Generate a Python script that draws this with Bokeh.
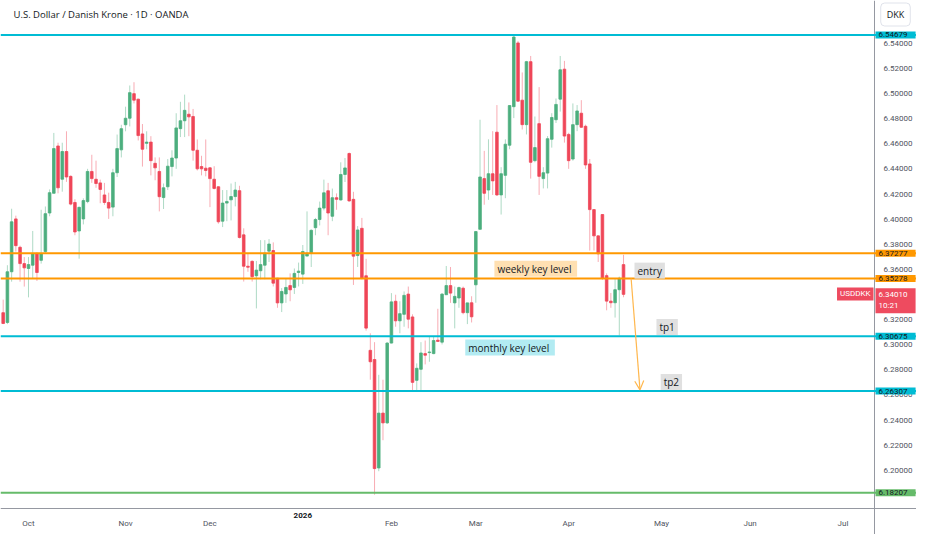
import numpy as np
import pandas as pd
from bokeh.plotting import figure
from bokeh.models import (ColumnDataSource, Span, Label, Arrow, OpenHead,
                          FixedTicker, PrintfTickFormatter, Range1d)
from bokeh.embed import file_html
from bokeh.resources import INLINE

# ---------------- data ----------------
title_text = "U.S. Dollar / Danish Krone \u00b7 1D \u00b7 OANDA"
symbol = "USDDKK"
currency = "DKK"
first_bar = "2025-09-23"
calendar_end = "2026-07-31"
holidays = ["2025-12-25", "2026-01-01"]

opens = [
    6.3255, 6.3177, 6.3581, 6.4002, 6.3776, 6.3646, 6.3607, 6.3633, 6.3724, 6.3672,
    6.3742, 6.4049, 6.4206, 6.4583, 6.4318, 6.4539, 6.4341, 6.4133, 6.3906, 6.4002,
    6.4140, 6.4380, 6.4318, 6.4289, 6.4193, 6.4133, 6.4096, 6.4370, 6.4552, 6.4752,
    6.4804, 6.5000, 6.4956, 6.4679, 6.4604, 6.4614, 6.4445, 6.4380, 6.4172, 6.4258,
    6.4419, 6.4487, 6.4721, 6.4784, 6.4836, 6.4818, 6.4549, 6.4419, 6.4406, 6.4409,
    6.4318, 6.4258, 6.3984, 6.4128, 6.4154, 6.4180, 6.4227, 6.3875, 6.3625, 6.3664,
    6.3549, 6.3589, 6.3633, 6.3745, 6.3750, 6.3529, 6.3333, 6.3404, 6.3471, 6.3456,
    6.3575, 6.3562, 6.3706, 6.3731, 6.3932, 6.3997, 6.4088, 6.4226, 6.4023, 6.4171,
    6.4153, 6.4356, 6.4523, 6.4158, 6.3710, 6.3927, 6.3549, 6.2955, 6.2882, 6.2018,
    6.2455, 6.2377, 6.3013, 6.3346, 6.3190, 6.3242, 6.3403, 6.3221, 6.2716, 6.2804,
    6.2929, 6.2937, 6.2929, 6.3036, 6.3020, 6.3398, 6.3471, 6.3333, 6.3372, 6.3450,
    6.3255, 6.3334, 6.3477, 6.3919, 6.4323, 6.4232, 6.4362, 6.4693, 6.4193, 6.4349,
    6.4589, 6.4896, 6.5404, 6.4948, 6.4753, 6.5255, 6.4466, 6.4761, 6.4323, 6.4367,
    6.4636, 6.4792, 6.4956, 6.5195, 6.4675, 6.4479, 6.4753, 6.4844, 6.4740, 6.4440,
    6.4076, 6.3867, 6.4037, 6.3550, 6.3347, 6.3334, 6.3438, 6.3638,
]
highs = [
    6.3359, 6.3633, 6.4083, 6.4028, 6.3789, 6.3698, 6.3698, 6.3906, 6.3737, 6.4075,
    6.4101, 6.4237, 6.4687, 6.4609, 6.4609, 6.4700, 6.4349, 6.4159, 6.4101, 6.4166,
    6.4401, 6.4513, 6.4466, 6.4315, 6.4289, 6.4211, 6.4401, 6.4674, 6.4752, 6.4896,
    6.5065, 6.5091, 6.4960, 6.4758, 6.4700, 6.4661, 6.4492, 6.4492, 6.4284, 6.4479,
    6.4549, 6.4844, 6.4935, 6.4992, 6.4930, 6.4878, 6.4635, 6.4505, 6.4635, 6.4414,
    6.4422, 6.4262, 6.4232, 6.4232, 6.4284, 6.4297, 6.4266, 6.3927, 6.3724, 6.3672,
    6.3667, 6.3833, 6.3833, 6.3841, 6.3815, 6.3533, 6.3451, 6.3529, 6.3568, 6.3607,
    6.3654, 6.3794, 6.4062, 6.3919, 6.4010, 6.4140, 6.4315, 6.4289, 6.4244, 6.4205,
    6.4453, 6.4487, 6.4531, 6.4218, 6.3945, 6.4010, 6.3684, 6.3091, 6.3020, 6.2760,
    6.2721, 6.3020, 6.3411, 6.3398, 6.3346, 6.3424, 6.3463, 6.3242, 6.2851, 6.3020,
    6.3033, 6.3065, 6.3065, 6.3286, 6.3411, 6.3627, 6.3619, 6.3463, 6.3463, 6.3463,
    6.3333, 6.3386, 6.3906, 6.4792, 6.4544, 6.4636, 6.4701, 6.4909, 6.4414, 6.4636,
    6.4909, 6.5468, 6.5420, 6.5169, 6.5261, 6.5300, 6.4818, 6.5052, 6.4414, 6.4662,
    6.4844, 6.4961, 6.5300, 6.5261, 6.4688, 6.4922, 6.4909, 6.4948, 6.4753, 6.4479,
    6.4080, 6.3870, 6.4040, 6.3568, 6.3412, 6.3529, 6.3542, 6.3716,
]
lows = [
    6.3164, 6.3164, 6.3502, 6.3742, 6.3502, 6.3463, 6.3377, 6.3528, 6.3508, 6.3646,
    6.3724, 6.4023, 6.4206, 6.4206, 6.4219, 6.4297, 6.4110, 6.3872, 6.3685, 6.3958,
    6.4127, 6.4289, 6.4250, 6.4127, 6.4114, 6.4002, 6.4023, 6.4336, 6.4492, 6.4700,
    6.4739, 6.4922, 6.4627, 6.4419, 6.4557, 6.4349, 6.4310, 6.4062, 6.4081, 6.4232,
    6.4341, 6.4401, 6.4654, 6.4654, 6.4661, 6.4466, 6.4388, 6.4349, 6.4341, 6.4096,
    6.4237, 6.3964, 6.3937, 6.3984, 6.3990, 6.4102, 6.3846, 6.3503, 6.3581, 6.3503,
    6.3289, 6.3521, 6.3521, 6.3659, 6.3464, 6.3294, 6.3260, 6.3333, 6.3346, 6.3404,
    6.3464, 6.3484, 6.3706, 6.3619, 6.3872, 6.3950, 6.4070, 6.3872, 6.3984, 6.4075,
    6.4148, 6.4296, 6.4140, 6.3476, 6.3619, 6.3520, 6.3112, 6.2721, 6.1805, 6.1992,
    6.2239, 6.2369, 6.3010, 6.3143, 6.3091, 6.3143, 6.3130, 6.2635, 6.2635, 6.2635,
    6.2843, 6.2864, 6.2924, 6.3026, 6.3002, 6.3398, 6.3333, 6.3130, 6.3294, 6.3242,
    6.3164, 6.3177, 6.3334, 6.3919, 6.4115, 6.4154, 6.4193, 6.4185, 6.4037, 6.4167,
    6.4557, 6.4805, 6.4935, 6.4714, 6.4675, 6.4323, 6.4453, 6.4193, 6.4245, 6.4245,
    6.4570, 6.4766, 6.4857, 6.4610, 6.4401, 6.4466, 6.4701, 6.4727, 6.4401, 6.3750,
    6.3750, 6.3659, 6.3516, 6.3274, 6.3294, 6.3216, 6.3073, 6.3378,
]
closes = [
    6.3169, 6.3581, 6.3979, 6.3789, 6.3646, 6.3612, 6.3638, 6.3724, 6.3575, 6.3724,
    6.4044, 6.4211, 6.4562, 6.4250, 6.4539, 6.4336, 6.4120, 6.3898, 6.4094, 6.4148,
    6.4380, 6.4323, 6.4284, 6.4237, 6.4133, 6.4088, 6.4370, 6.4562, 6.4721, 6.4804,
    6.5008, 6.4948, 6.4666, 6.4557, 6.4614, 6.4466, 6.4409, 6.4179, 6.4250, 6.4422,
    6.4487, 6.4727, 6.4784, 6.4867, 6.4815, 6.4549, 6.4401, 6.4401, 6.4388, 6.4323,
    6.4245, 6.3979, 6.4128, 6.4141, 6.4180, 6.4232, 6.3854, 6.3625, 6.3617, 6.3542,
    6.3594, 6.3638, 6.3729, 6.3802, 6.3490, 6.3333, 6.3424, 6.3456, 6.3437, 6.3568,
    6.3586, 6.3742, 6.3729, 6.3911, 6.3997, 6.4088, 6.4210, 6.4049, 6.4171, 6.4158,
    6.4356, 6.4408, 6.4145, 6.3705, 6.3914, 6.3528, 6.3132, 6.2864, 6.2013, 6.2455,
    6.2377, 6.3013, 6.3341, 6.3190, 6.3247, 6.3393, 6.3203, 6.2700, 6.2812, 6.2934,
    6.2916, 6.2942, 6.3033, 6.3026, 6.3403, 6.3471, 6.3411, 6.3385, 6.3455, 6.3255,
    6.3333, 6.3222, 6.3901, 6.4336, 6.4206, 6.4362, 6.4305, 6.4193, 6.4362, 6.4597,
    6.4905, 6.5451, 6.4940, 6.4753, 6.5255, 6.4453, 6.4570, 6.4341, 6.4370, 6.4641,
    6.4810, 6.4914, 6.5190, 6.4662, 6.4466, 6.4753, 6.4862, 6.4732, 6.4432, 6.4076,
    6.3867, 6.3724, 6.3529, 6.3347, 6.3334, 6.3438, 6.3529, 6.3401,
]

cyan_levels = [6.54679, 6.30675, 6.26307]
orange_levels = [6.37277, 6.35278]
green_levels = [6.18207]
last_price = 6.34010
countdown = "10:21"
price_ticks = [6.20, 6.22, 6.24, 6.26, 6.28, 6.30, 6.32, 6.34, 6.36, 6.38,
               6.40, 6.42, 6.44, 6.46, 6.48, 6.50, 6.52, 6.54]

# chart notes: (text, bar position of text start, price of centre, background)
notes = [
    ("weekly key  level", 116.4, 6.3605, "#ffe0b2"),
    ("monthly key  level", 109.5, 6.2977, "#b2ebf2"),
    ("entry", 149.6, 6.3590, "#e0e0e0"),
    ("tp1", 154.8, 6.3141, "#e0e0e0"),
    ("tp2", 155.8, 6.2703, "#e0e0e0"),
]
arrow_from = (148.8, 6.35278)
arrow_to = (150.9, 6.2640)

# ---------------- build ----------------
GREEN = "#4cae7e"
RED = "#ef4658"
CYAN = "#00bcd4"
ORANGE = "#ff9800"
LGREEN = "#66bb6a"
TXT = "#131722"
FONT = "Open Sans"
NUMFONT = "Roboto"

cal = pd.bdate_range(first_bar, calendar_end)
cal = cal[~cal.isin(pd.to_datetime(holidays))]
n = len(opens)
xs = np.arange(n)
o = np.array(opens); c = np.array(closes)
up = c >= o
src = ColumnDataSource(dict(
    x=xs, high=highs, low=lows,
    top=np.maximum(o, c), bottom=np.minimum(o, c),
    body=np.where(up, GREEN, RED),
))

month_ticks = []
month_labels = {}
seen = set()
for idx, d in enumerate(cal):
    key = (d.year, d.month)
    if key in seen:
        continue
    seen.add(key)
    if d < pd.Timestamp("2025-10-01"):
        continue
    month_ticks.append(idx)
    month_labels[idx] = "" if d.month == 1 else d.strftime("%b")
year_tick = [i for i in month_ticks if cal[i].month == 1][0]

# geometry: the frame fills the whole canvas; price scale and time scale are
# axes fixed inside it, as on the reference screen
W, H = 916, 534
AXIS_X_PX, AXIS_Y_PX = 874, 508
X0, Y_TOP, Y_BOTTOM_VIEW = -0.635, 6.5742, 6.1695
PX_PER_BAR = 4.22
PX_PER_UNIT = AXIS_Y_PX / (Y_TOP - Y_BOTTOM_VIEW)
X_AXIS = X0 + AXIS_X_PX / PX_PER_BAR

p = figure(width=W, height=H,
           x_range=Range1d(X0, X0 + W / PX_PER_BAR),
           y_range=Range1d(Y_TOP - H / PX_PER_UNIT, Y_TOP),
           output_backend="svg", toolbar_location=None, y_axis_location="right",
           min_border_left=0, min_border_top=0, min_border_right=0,
           min_border_bottom=0)
p.outline_line_color = None
p.grid.visible = False
p.background_fill_color = "white"
p.border_fill_color = "white"

for ax in (p.xaxis[0], p.yaxis[0]):
    ax.axis_line_color = "#9598a1"
    ax.axis_line_width = 1
    ax.major_tick_line_color = None
    ax.minor_tick_line_color = None
    ax.major_label_text_color = "#50535e"
    ax.major_label_text_font = NUMFONT
    ax.major_label_text_font_size = "8px"

p.yaxis.ticker = FixedTicker(ticks=price_ticks)
p.yaxis.formatter = PrintfTickFormatter(format="%.5f")
p.yaxis.major_label_standoff = 3
p.yaxis.fixed_location = X_AXIS
p.xaxis.ticker = FixedTicker(ticks=month_ticks)
p.xaxis.major_label_overrides = month_labels
p.xaxis.major_label_standoff = 4
p.xaxis.fixed_location = Y_BOTTOM_VIEW

for lv in cyan_levels:
    p.add_layout(Span(location=lv, dimension="width", line_color=CYAN, line_width=2))
for lv in orange_levels:
    p.add_layout(Span(location=lv, dimension="width", line_color=ORANGE, line_width=2))
for lv in green_levels:
    p.add_layout(Span(location=lv, dimension="width", line_color=LGREEN, line_width=2))

p.segment(x0="x", y0="high", x1="x", y1="low", source=src,
          line_color="body", line_alpha=0.45, line_width=1)
p.vbar(x="x", width=0.62, top="top", bottom="bottom", source=src,
       fill_color="body", line_color="body", line_width=0.8)

# chart notes
for text, nx, ny, bg in notes:
    p.add_layout(Label(x=nx, y=ny, text=text, text_font=FONT, text_font_size="10px",
                       text_color=TXT, text_baseline="middle", text_align="left",
                       background_fill_color=bg,
                       padding=dict(left=3, right=3, top=1, bottom=1)))

p.add_layout(Arrow(end=OpenHead(size=9, line_color="#ffb74d", line_width=1.2),
                   x_start=arrow_from[0], y_start=arrow_from[1],
                   x_end=arrow_to[0], y_end=arrow_to[1],
                   line_color="#ffb74d", line_width=1.2))

# price-scale tags
def tag(v, bg, fg=TXT):
    p.add_layout(Label(x=AXIS_X_PX + 1, y=v, x_units="canvas", text=f"{v:.5f}",
                       text_font=NUMFONT, text_font_size="8px", text_color=fg,
                       text_baseline="middle", text_align="left",
                       background_fill_color=bg,
                       padding=dict(left=3, right=8, top=1, bottom=1)))

for lv in cyan_levels:
    tag(lv, CYAN)
for lv in orange_levels:
    tag(lv, ORANGE)
for lv in green_levels:
    tag(lv, LGREEN)

p.add_layout(Label(x=AXIS_X_PX + 1, y=last_price + 0.0048, x_units="canvas",
                   text=f"{last_price:.5f}\n{countdown}", text_font=NUMFONT,
                   text_font_size="8px", text_color="white", text_baseline="top",
                   text_align="left", background_fill_color="#ee4b5f",
                   padding=dict(left=3, right=8, top=2, bottom=3)))
p.add_layout(Label(x=AXIS_X_PX - 1, y=last_price + 0.0003, x_units="canvas",
                   text=symbol, text_font=NUMFONT, text_font_size="8px",
                   text_color="white", text_baseline="middle", text_align="right",
                   background_fill_color="#ee4b5f",
                   padding=dict(left=3, right=3, top=2, bottom=2)))

# currency box
p.add_layout(Label(x=(AXIS_X_PX + W) / 2, y=14, x_units="canvas", y_units="canvas",
                   text=currency, text_font=FONT, text_font_size="9px",
                   text_color=TXT, text_baseline="middle", text_align="center",
                   background_fill_color="white", border_line_color="#e0e3eb",
                   border_radius=4, padding=dict(left=6, right=6, top=5, bottom=5)))

# title
p.add_layout(Label(x=13, y=14, x_units="canvas", y_units="canvas", text=title_text,
                   text_font=FONT, text_font_size="9.5px", text_color=TXT,
                   text_baseline="middle", text_align="left"))

# bold year label on the time scale
p.add_layout(Label(x=year_tick, y=AXIS_Y_PX + 4, y_units="canvas",
                   text=str(cal[year_tick].year), text_font=NUMFONT,
                   text_font_size="8px", text_font_style="bold",
                   text_color=TXT, text_baseline="top", text_align="center"))

open("out.html", "w").write(file_html(p, INLINE))
